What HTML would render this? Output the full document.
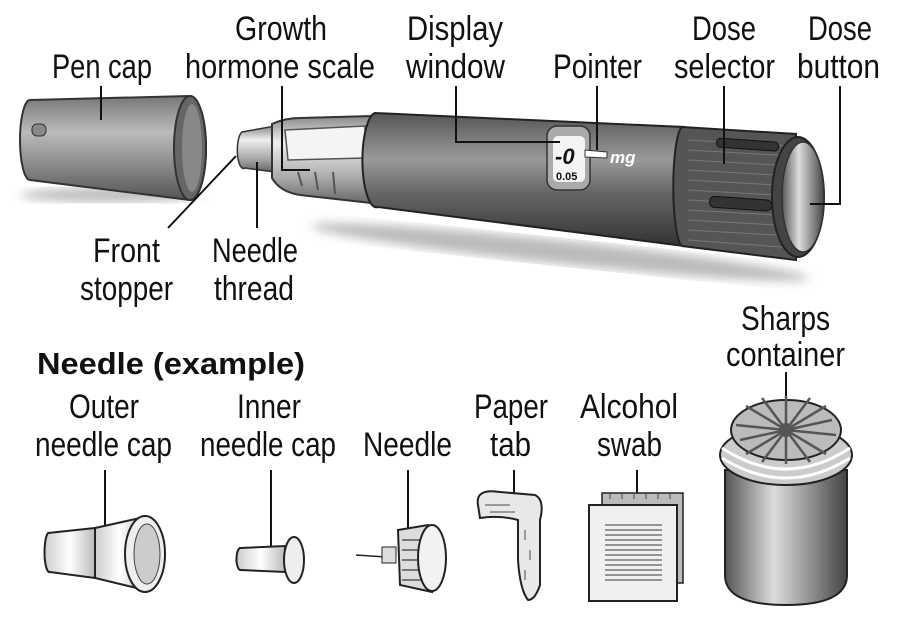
<!DOCTYPE html>
<html><head><meta charset="utf-8"><style>
html,body{margin:0;padding:0;background:#fff}
svg{display:block}
text{font-family:"Liberation Sans",sans-serif;font-size:34px;fill:#111}
.b{font-weight:bold;font-size:31px}
</style></head><body>
<svg width="910" height="644" viewBox="0 0 910 644" xmlns="http://www.w3.org/2000/svg">
<defs>
<linearGradient id="gv" x1="0" y1="0" x2="0" y2="1">
<stop offset="0" stop-color="#555"/><stop offset="0.35" stop-color="#9a9a9a"/><stop offset="0.6" stop-color="#666"/><stop offset="1" stop-color="#333"/></linearGradient>
<linearGradient id="gl" x1="0" y1="0" x2="0" y2="1">
<stop offset="0" stop-color="#888"/><stop offset="0.3" stop-color="#eee"/><stop offset="0.7" stop-color="#aaa"/><stop offset="1" stop-color="#666"/></linearGradient>
<linearGradient id="gc" x1="0" y1="0" x2="0" y2="1">
<stop offset="0" stop-color="#777"/><stop offset="0.35" stop-color="#bbb"/><stop offset="1" stop-color="#555"/></linearGradient>
<linearGradient id="gh" x1="0" y1="0" x2="1" y2="0">
<stop offset="0" stop-color="#555"/><stop offset="0.4" stop-color="#ddd"/><stop offset="1" stop-color="#444"/></linearGradient>
<linearGradient id="gw" x1="0" y1="0" x2="1" y2="0">
<stop offset="0" stop-color="#ccc"/><stop offset="0.5" stop-color="#fff"/><stop offset="1" stop-color="#bbb"/></linearGradient>
<filter id="sh"><feGaussianBlur stdDeviation="5"/></filter>
</defs>

<ellipse cx="560" cy="252" rx="250" ry="12" fill="#bbb" filter="url(#sh)" transform="rotate(6 560 252)"/>
<ellipse cx="110" cy="195" rx="90" ry="7" fill="#bbb" filter="url(#sh)"/>

<!-- pen cap -->
<path d="M30 100 L190 96 A16 52 0 0 1 190 200 L30 180 A10 40 0 0 1 30 100Z" fill="url(#gc)" stroke="#333" stroke-width="2"/>
<ellipse cx="190" cy="148" rx="16" ry="52" fill="#666" stroke="#333" stroke-width="2"/>
<ellipse cx="192" cy="148" rx="10" ry="44" fill="#888"/>
<rect x="32" y="124" width="14" height="12" rx="5" fill="#888" stroke="#333"/>

<path d="M242 132 L275 126 L275 172 L245 168 A6 18 0 0 1 242 132Z" fill="url(#gl)" stroke="#333" stroke-width="1.5"/>
<path d="M272 124 Q285 118 300 118 L372 116 L380 204 L300 195 Q280 192 272 178Z" fill="url(#gl)" stroke="#333" stroke-width="2"/>
<path d="M285 130 L365 126 L365 158 L288 160Z" fill="#f4f4f4" stroke="#555" stroke-width="1.5"/>
<path d="M298 172 L302 186 M315 172 L318 190 M333 172 L335 194" stroke="#555" stroke-width="2"/>

<path d="M375 113 L684 127 L684 246 L378 207 A14 47 0 0 1 375 113Z" fill="url(#gv)" stroke="#222" stroke-width="2"/>
<rect x="547" y="126" width="43" height="64" rx="10" fill="#aaa" stroke="#333" stroke-width="1.5"/>
<rect x="553" y="136" width="32" height="46" rx="5" fill="#f4f4f4"/>
<text x="555" y="164" style="font-size:22px;font-weight:bold;font-style:italic">-0</text>
<text x="556" y="180" style="font-size:11px;font-weight:bold">0.05</text>
<path d="M585 150 L607 152 L607 158 L585 157Z" fill="#fff" stroke="#333"/>
<text x="610" y="163" style="font-size:17px;font-weight:bold;font-style:italic;fill:#fff">mg</text>

<path d="M682 127 L796 134 L796 260 L682 246 A10 60 0 0 1 682 127Z" fill="#555" stroke="#222" stroke-width="2"/>
<g stroke="#777" stroke-width="1">
<path d="M688 140 L794 146 M688 150 L794 156 M688 160 L794 166 M688 170 L794 176 M688 180 L794 186 M688 190 L794 196 M688 200 L794 206 M688 210 L794 216 M688 220 L794 226 M688 230 L794 236 M688 240 L794 248"/>
</g>
<rect x="717" y="138" width="62" height="9" rx="4" fill="#333" stroke="#111" transform="rotate(4 717 138)"/>
<rect x="710" y="196" width="62" height="11" rx="5" fill="#333" stroke="#111" transform="rotate(4 710 196)"/>
<ellipse cx="798" cy="197" rx="26" ry="60" fill="#444" stroke="#222" stroke-width="2"/>
<ellipse cx="803" cy="197" rx="21" ry="55" fill="url(#gh)" stroke="#333" stroke-width="1.5"/>

<g stroke="#111" stroke-width="2" fill="none">
<path d="M101 86 V120"/>
<path d="M282 86 V170 H310"/>
<path d="M456 86 V142 H560"/>
<path d="M597 86 V150"/>
<path d="M724 86 V164"/>
<path d="M840 86 V204 H810"/>
<path d="M236 156 L168 228"/>
<path d="M257 162 V228"/>
<path d="M105 470 V536"/>
<path d="M271 470 V560"/>
<path d="M408 470 V538"/>
<path d="M514 470 V518"/>
<path d="M637 470 V515"/>
<path d="M786 372 V405"/>
</g>

<g>
<text x="52" y="78" textLength="100" lengthAdjust="spacingAndGlyphs">Pen cap</text>
<text x="235" y="40" textLength="92" lengthAdjust="spacingAndGlyphs">Growth</text>
<text x="185" y="78" textLength="190" lengthAdjust="spacingAndGlyphs">hormone scale</text>
<text x="407" y="40" textLength="96" lengthAdjust="spacingAndGlyphs">Display</text>
<text x="406" y="78" textLength="99" lengthAdjust="spacingAndGlyphs">window</text>
<text x="553" y="78" textLength="89" lengthAdjust="spacingAndGlyphs">Pointer</text>
<text x="692" y="40" textLength="64" lengthAdjust="spacingAndGlyphs">Dose</text>
<text x="674" y="78" textLength="101" lengthAdjust="spacingAndGlyphs">selector</text>
<text x="808" y="40" textLength="64" lengthAdjust="spacingAndGlyphs">Dose</text>
<text x="797" y="78" textLength="83" lengthAdjust="spacingAndGlyphs">button</text>
<text x="93" y="262" textLength="67" lengthAdjust="spacingAndGlyphs">Front</text>
<text x="80" y="300" textLength="93" lengthAdjust="spacingAndGlyphs">stopper</text>
<text x="212" y="262" textLength="86" lengthAdjust="spacingAndGlyphs">Needle</text>
<text x="214" y="300" textLength="80" lengthAdjust="spacingAndGlyphs">thread</text>
<text class="b" x="37" y="374" textLength="268" lengthAdjust="spacingAndGlyphs">Needle (example)</text>
<text x="741" y="330" textLength="89" lengthAdjust="spacingAndGlyphs">Sharps</text>
<text x="726" y="366" textLength="119" lengthAdjust="spacingAndGlyphs">container</text>
<text x="69" y="418" textLength="70" lengthAdjust="spacingAndGlyphs">Outer</text>
<text x="35" y="456" textLength="137" lengthAdjust="spacingAndGlyphs">needle cap</text>
<text x="237" y="418" textLength="64" lengthAdjust="spacingAndGlyphs">Inner</text>
<text x="200" y="456" textLength="136" lengthAdjust="spacingAndGlyphs">needle cap</text>
<text x="363" y="456" textLength="89" lengthAdjust="spacingAndGlyphs">Needle</text>
<text x="474" y="418" textLength="74" lengthAdjust="spacingAndGlyphs">Paper</text>
<text x="490" y="456" textLength="41" lengthAdjust="spacingAndGlyphs">tab</text>
<text x="580" y="418" textLength="98" lengthAdjust="spacingAndGlyphs">Alcohol</text>
<text x="597" y="456" textLength="65" lengthAdjust="spacingAndGlyphs">swab</text>
</g>

<path d="M48 533 L95 528 L95 578 L50 572 A5 20 0 0 1 48 533Z" fill="url(#gw)" stroke="#222" stroke-width="2"/>
<path d="M95 528 L140 518 L145 590 L95 578Z" fill="url(#gw)" stroke="#222" stroke-width="2"/>
<ellipse cx="145" cy="554" rx="20" ry="38" fill="#eee" stroke="#222" stroke-width="2"/>
<ellipse cx="147" cy="554" rx="13" ry="30" fill="#ccc" stroke="#444"/>
<path d="M240 548 L285 546 L285 572 L241 570 A4 11 0 0 1 240 548Z" fill="url(#gw)" stroke="#222" stroke-width="2"/>
<ellipse cx="294" cy="560" rx="10" ry="23" fill="#eee" stroke="#222" stroke-width="2"/>
<path d="M356 555 L385 557" stroke="#222" stroke-width="1.5"/>
<rect x="382" y="547" width="14" height="16" fill="#ddd" stroke="#222"/>
<path d="M398 530 L428 525 L432 592 L400 585Z" fill="#ddd" stroke="#222" stroke-width="2"/>
<g stroke="#777" stroke-width="2"><path d="M402 540 H426 M402 550 H428 M402 560 H428 M402 570 H428 M402 580 H428"/></g>
<ellipse cx="432" cy="558" rx="14" ry="33" fill="#f2f2f2" stroke="#222" stroke-width="2"/>
<path d="M478 505 Q475 488 500 492 L535 495 Q545 500 540 520 L540 585 Q535 600 528 600 Q520 590 518 560 L518 520 Q500 515 480 518Z" fill="#e8e8e8" stroke="#222" stroke-width="2"/>
<g stroke="#999" stroke-width="2"><path d="M485 505 H510 M490 512 H515 M525 530 V540 M530 550 V560 M525 570 V580"/></g>
<rect x="602" y="493" width="81" height="90" fill="#bbb" stroke="#222" stroke-width="1.5"/>
<g stroke="#444"><path d="M610 493 v6 M622 493 v6 M634 493 v6 M646 493 v6 M658 493 v6 M670 493 v6"/></g>
<rect x="589" y="505" width="88" height="96" fill="#f0f0f0" stroke="#222" stroke-width="2"/>
<g stroke="#777" stroke-width="1.5">
<path d="M605 525 H662 M605 530 H662 M605 535 H662 M605 540 H662 M605 545 H662 M605 550 H662 M605 555 H662 M605 560 H662 M605 565 H662 M605 570 H662 M605 575 H662 M605 580 H662"/></g>

<path d="M725 470 L847 470 L847 575 Q847 605 786 605 Q725 605 725 575Z" fill="url(#gh)" stroke="#222" stroke-width="2"/>
<ellipse cx="786" cy="455" rx="66" ry="30" fill="#ccc" stroke="#222" stroke-width="2"/>
<path d="M722 448 Q786 490 850 448 M722 458 Q786 498 850 458" stroke="#fff" stroke-width="3" fill="none"/>
<ellipse cx="786" cy="430" rx="55" ry="30" fill="#bbb" stroke="#222" stroke-width="2"/>
<g stroke="#555" stroke-width="2.5">
<path d="M746 406 L826 454 M762 398 L810 462 M786 396 L786 464 M810 398 L762 462 M826 406 L746 454 M736 425 L836 435 M740 440 L832 420"/></g>
<circle cx="786" cy="430" r="7" fill="#555"/>
</svg>
</body></html>
